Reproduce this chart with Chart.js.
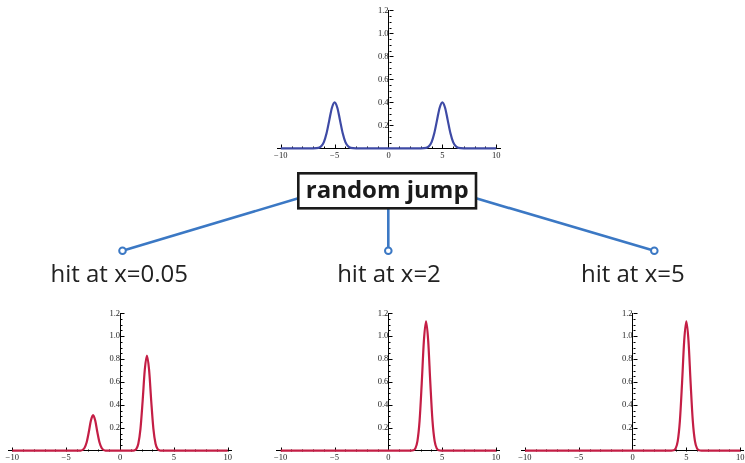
<!DOCTYPE html>
<html><head><meta charset="utf-8">
<script src="https://cdn.jsdelivr.net/npm/chart.js@4.4.0/dist/chart.umd.min.js"></script>
<style>
html,body{margin:0;padding:0;background:#fff;}
#wrap{position:relative;width:745px;height:463px;overflow:hidden;background:#fff;}
canvas{position:absolute;left:0;top:0;}
svg{position:absolute;left:0;top:0;}
</style></head><body>
<div id="wrap">
<canvas id="cTop" width="745" height="463"></canvas>
<canvas id="cLeft" width="745" height="463"></canvas>
<canvas id="cMid" width="745" height="463"></canvas>
<canvas id="cRight" width="745" height="463"></canvas>
<svg id="ann" width="745" height="463" xmlns="http://www.w3.org/2000/svg"></svg>
</div>
<script>
// ---------- data ----------
const xTickLabels = [-10, -5, 0, 5, 10];
const yTickLabels = [0.2, 0.4, 0.6, 0.8, 1.0, 1.2];

// top panel: state before the random jump (two bumps at -5 and 5)
const jumpX = [-10, -7, -6.5, -6.25, -6, -5.75, -5.5, -5.25, -5, -4.75, -4.5, -4.25, -4, -3.75, -3.5, -3,
               3, 3.5, 3.75, 4, 4.25, 4.5, 4.75, 5, 5.25, 5.5, 5.75, 6, 6.25, 6.5, 7, 10];
const jumpY = [0, 0, 0.004, 0.018, 0.054, 0.130, 0.243, 0.353, 0.400, 0.353, 0.243, 0.130, 0.054, 0.018, 0.004, 0,
               0, 0.004, 0.018, 0.054, 0.130, 0.243, 0.353, 0.400, 0.353, 0.243, 0.130, 0.054, 0.018, 0.004, 0, 0];

// hit at x=0.05
const hit005X = [-10, -3.9, -3.7, -3.5, -3.3, -3.1, -2.9, -2.7, -2.5, -2.3, -2.1, -1.9, -1.7, -1.5, -1.3, -1.1,
                 1.1, 1.3, 1.5, 1.7, 1.9, 2.1, 2.3, 2.5, 2.7, 2.9, 3.1, 3.3, 3.5, 3.7, 3.9, 10];
const hit005Y = [0, 0, 0.001, 0.005, 0.023, 0.071, 0.161, 0.263, 0.310, 0.263, 0.161, 0.071, 0.023, 0.005, 0.001, 0,
                 0, 0.002, 0.014, 0.061, 0.191, 0.432, 0.705, 0.830, 0.705, 0.432, 0.191, 0.061, 0.014, 0.002, 0, 0];

// hit at x=2
const hit2X = [-10, 2.1, 2.3, 2.5, 2.7, 2.9, 3.1, 3.3, 3.5, 3.7, 3.9, 4.1, 4.3, 4.5, 4.7, 4.9, 10];
const hit2Y = [0, 0, 0.003, 0.019, 0.083, 0.260, 0.588, 0.959, 1.130, 0.959, 0.588, 0.260, 0.083, 0.019, 0.003, 0, 0];

// hit at x=5
const hit5X = [-10, 3.6, 3.8, 4.0, 4.2, 4.4, 4.6, 4.8, 5.0, 5.2, 5.4, 5.6, 5.8, 6.0, 6.2, 6.4, 10];
const hit5Y = [0, 0, 0.003, 0.019, 0.083, 0.260, 0.588, 0.959, 1.130, 0.959, 0.588, 0.260, 0.083, 0.019, 0.003, 0, 0];

const boxLabel = 'random jump';
const hitLabels = ['hit at x=0.05', 'hit at x=2', 'hit at x=5'];

// ---------- styling / layout ----------
const W = 745, H = 463;
const BLUE = '#3e4aa5', RED = '#c41e45', LINK = '#3b78c4';

const tickPlugin = {
  id: 'mmaTicks',
  beforeDatasetsDraw(chart) {
    const {ctx, scales: {x, y}} = chart;
    const x0 = Math.round(x.getPixelForValue(0)) + 0.5;
    const y0 = Math.round(y.getPixelForValue(0)) + 0.5;
    ctx.save();
    ctx.strokeStyle = '#000';
    ctx.lineWidth = 1;
    ctx.beginPath();
    for (let v = -10; v <= 10; v++) {
      if (v === 0) continue;
      const px = Math.round(x.getPixelForValue(v)) + 0.5;
      const len = (v % 5 === 0) ? 4 : 2;
      ctx.moveTo(px, y0); ctx.lineTo(px, y0 - len);
    }
    for (let k = 1; k <= 24; k++) {
      const py = Math.round(y.getPixelForValue(k * 0.05)) + 0.5;
      const len = (k % 4 === 0) ? 4 : 2;
      ctx.moveTo(x0, py); ctx.lineTo(x0 + len, py);
    }
    ctx.stroke();
    ctx.restore();
  }
};

function fmtX(v) { return v < 0 ? '\u2212' + Math.abs(v) : String(v); }

function makeChart(id, xs, ys, color, area) {
  const pts = xs.map((x, i) => ({x: x, y: ys[i]}));
  return new Chart(document.getElementById(id), {
    type: 'line',
    data: { datasets: [{
      data: pts, borderColor: color, borderWidth: 2.2, pointRadius: 0,
      cubicInterpolationMode: 'monotone', fill: false, clip: false
    }]},
    options: {
      responsive: false, animation: false, events: [],
      layout: { padding: { left: area.l, top: area.t, right: W - area.r, bottom: H - area.b } },
      plugins: { legend: {display: false}, tooltip: {enabled: false}, title: {display: false} },
      scales: {
        x: {
          type: 'linear', min: -10.35, max: 10.35, position: {y: 0},
          afterFit(s) { s.height = 0; s.paddingLeft = 0; s.paddingRight = 0; },
          afterBuildTicks(s) { s.ticks = xTickLabels.map(v => ({value: v})); },
          grid: {display: false, drawTicks: false},
          border: {display: true, color: '#000', width: 1},
          ticks: { padding: 2, color: '#222', maxRotation: 0, autoSkip: false,
                   font: {family: 'Liberation Serif', size: 8.5}, callback: v => fmtX(v) }
        },
        y: {
          type: 'linear', min: 0, max: 1.2, position: {x: 0},
          afterFit(s) { s.width = 0; s.paddingTop = 0; s.paddingBottom = 0; },
          afterBuildTicks(s) { s.ticks = yTickLabels.map(v => ({value: v})); },
          grid: {display: false, drawTicks: false},
          border: {display: true, color: '#000', width: 1},
          ticks: { padding: 2, color: '#222', autoSkip: false,
                   font: {family: 'Liberation Serif', size: 8.5}, callback: v => v.toFixed(1) }
        }
      }
    },
    plugins: [tickPlugin]
  });
}

makeChart('cTop',   jumpX,   jumpY,   BLUE, {l: 277,   r: 500,   t: 10.3,  b: 148.3});
makeChart('cLeft',  hit005X, hit005Y, RED,  {l: 8.5,   r: 231.5, t: 313.3, b: 450.7});
makeChart('cMid',   hit2X,   hit2Y,   RED,  {l: 276.9, r: 499.8, t: 313.3, b: 450.7});
makeChart('cRight', hit5X,   hit5Y,   RED,  {l: 521.2, r: 743.9, t: 313.3, b: 450.7});

// ---------- annotation: box, connectors, labels ----------
const NS = 'http://www.w3.org/2000/svg';
const svg = document.getElementById('ann');
function el(tag, attrs, text) {
  const e = document.createElementNS(NS, tag);
  for (const k in attrs) e.setAttribute(k, attrs[k]);
  if (text !== undefined) e.textContent = text;
  svg.appendChild(e);
  return e;
}
const circles = [[122.5, 250.7], [388.3, 250.7], [654.3, 250.7]];
const starts = [[298.3, 198.3], [388.3, 208.3], [476, 198.3]];
for (let i = 0; i < 3; i++) {
  el('line', {x1: starts[i][0], y1: starts[i][1], x2: circles[i][0], y2: circles[i][1],
              stroke: LINK, 'stroke-width': 2.6});
}
for (const c of circles) {
  el('circle', {cx: c[0], cy: c[1], r: 3.3, fill: '#fff', stroke: LINK, 'stroke-width': 2});
}
el('rect', {x: 298.3, y: 173.3, width: 177.7, height: 35, fill: '#fff', stroke: '#1a1a1a', 'stroke-width': 2.6});
el('text', {x: 387.2, y: 198.3, 'text-anchor': 'middle', 'font-family': 'Open Sans', 'font-weight': 'bold',
            'font-size': 24, fill: '#1a1a1a'}, boxLabel);
const labelPos = [[119.2, 281.7], [389, 281.7], [632.8, 281.7]];
hitLabels.forEach((t, i) => {
  el('text', {x: labelPos[i][0], y: labelPos[i][1], 'text-anchor': 'middle', 'font-family': 'Open Sans',
              'font-size': 24, fill: '#222'}, t);
});
</script>
</body></html>
